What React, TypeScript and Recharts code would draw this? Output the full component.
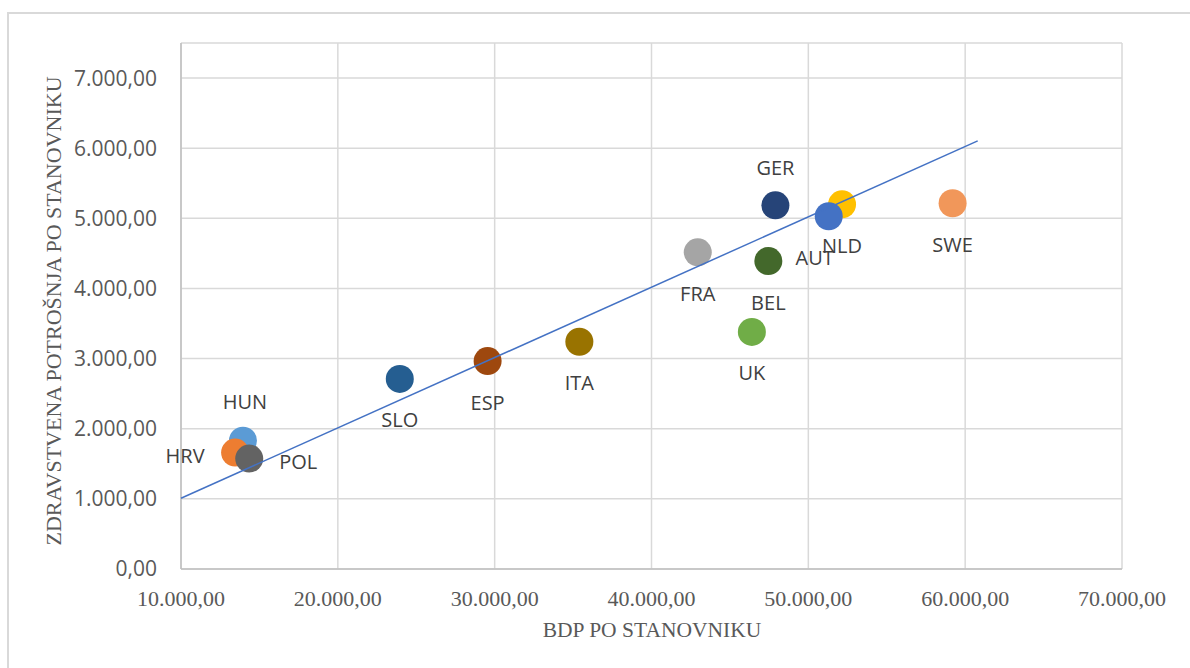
import { ScatterChart, Scatter, XAxis, YAxis, CartesianGrid, Label } from 'recharts';

const countries = ['HUN', 'HRV', 'POL', 'SLO', 'ESP', 'ITA', 'FRA', 'GER', 'BEL', 'UK', 'NLD', 'AUT', 'SWE'];
const gdpPerCapita = [13950, 13450, 14350, 23950, 29550, 35400, 42950, 47900, 47450, 46400, 52150, 51300, 59200];
const healthPerCapita = [1830, 1660, 1575, 2710, 2965, 3240, 4515, 5185, 4390, 3380, 5200, 5030, 5215];
const pointColors = [
  '#5B9BD5', '#ED7D31', '#636363', '#255E91', '#9E480E', '#997300', '#A5A5A5',
  '#264478', '#43682B', '#70AD47', '#FFC000', '#4472C4', '#F1975A',
];

// linear trend, ends
const trendGdp = [10000, 60800];
const trendHealth = [1008, 6105];

const xTicks = [10000, 20000, 30000, 40000, 50000, 60000, 70000];
const yTicks = [0, 1000, 2000, 3000, 4000, 5000, 6000, 7000];

// where each label sits relative to its point
const labelOffset: Record<string, [number, number]> = {
  HUN: [2, -39],
  HRV: [-50, 3],
  POL: [49, 3],
  GER: [0, -38],
  AUT: [-14, 41],
};

const points = countries.map((name, i) => ({ name, x: gdpPerCapita[i], y: healthPerCapita[i], color: pointColors[i] }));
const trend = trendGdp.map((x, i) => ({ x, y: trendHealth[i] }));

const fmt = (v: number) => {
  const s = Math.round(v).toString().replace(/\B(?=(\d{3})+(?!\d))/g, '.');
  return s + ',00';
};

const sans = '"Open Sans", sans-serif';
const serif = '"Liberation Serif", "Times New Roman", serif';

export default function App() {
  return (
    <div style={{ position: 'absolute', left: 0, top: 0, width: 1190, height: 668, background: '#fff', overflow: 'hidden' }}>
      <div
        style={{
          position: 'absolute', left: 7, top: 12, width: 1200, height: 700,
          border: '2px solid #d9d9d9', boxSizing: 'border-box',
        }}
      />
      <ScatterChart
        width={1190}
        height={668}
        margin={{ top: 43, right: 68, bottom: 39, left: 81 }}
        style={{ position: 'absolute', left: 0, top: 0 }}
      >
        <CartesianGrid stroke="#d9d9d9" strokeWidth={1.5} />
        <XAxis
          type="number"
          dataKey="x"
          domain={[10000, 70000]}
          ticks={xTicks}
          tickFormatter={fmt}
          height={60}
          tickLine={false}
          tickMargin={15}
          axisLine={{ stroke: '#bfbfbf', strokeWidth: 1.5 }}
          tick={{ fill: '#595959', fontFamily: serif, fontSize: 22 }}
        >
          <Label
            content={() => (
              <text x={652} y={637} textAnchor="middle" fill="#595959" fontFamily={serif} fontSize={21.5}>
                BDP PO STANOVNIKU
              </text>
            )}
          />
        </XAxis>
        <YAxis
          type="number"
          dataKey="y"
          domain={[0, 7500]}
          ticks={yTicks}
          tickFormatter={fmt}
          width={100}
          tickLine={false}
          tickMargin={18}
          axisLine={{ stroke: '#bfbfbf', strokeWidth: 1.5 }}
          tick={{ fill: '#595959', fontFamily: sans, fontSize: 21 }}
        >
          <Label
            content={() => (
              <text
                x={53}
                y={311}
                transform="rotate(-90 53 311)"
                textAnchor="middle"
                dominantBaseline="central"
                fill="#595959"
                fontFamily={serif}
                fontSize={22}
              >
                ZDRAVSTVENA POTROŠNJA PO STANOVNIKU
              </text>
            )}
          />
        </YAxis>
        <Scatter
          data={points}
          isAnimationActive={false}
          shape={(p: any) => <circle cx={p.cx} cy={p.cy} r={14} fill={p.payload?.color ?? p.color} />}
        />
        <Scatter
          data={trend}
          isAnimationActive={false}
          line={{ stroke: '#4472C4', strokeWidth: 1.5 }}
          shape={() => <g />}
        />
        <Scatter
          data={points}
          isAnimationActive={false}
          shape={(p: any) => {
            const name = p.payload?.name ?? p.name;
            const [dx, dy] = labelOffset[name] ?? [0, 41];
            return (
              <text
                x={p.cx + dx}
                y={p.cy + dy}
                textAnchor="middle"
                dominantBaseline="central"
                fill="#404040"
                fontFamily={sans}
                fontSize={20}
              >
                {name}
              </text>
            );
          }}
        />
      </ScatterChart>
    </div>
  );
}
